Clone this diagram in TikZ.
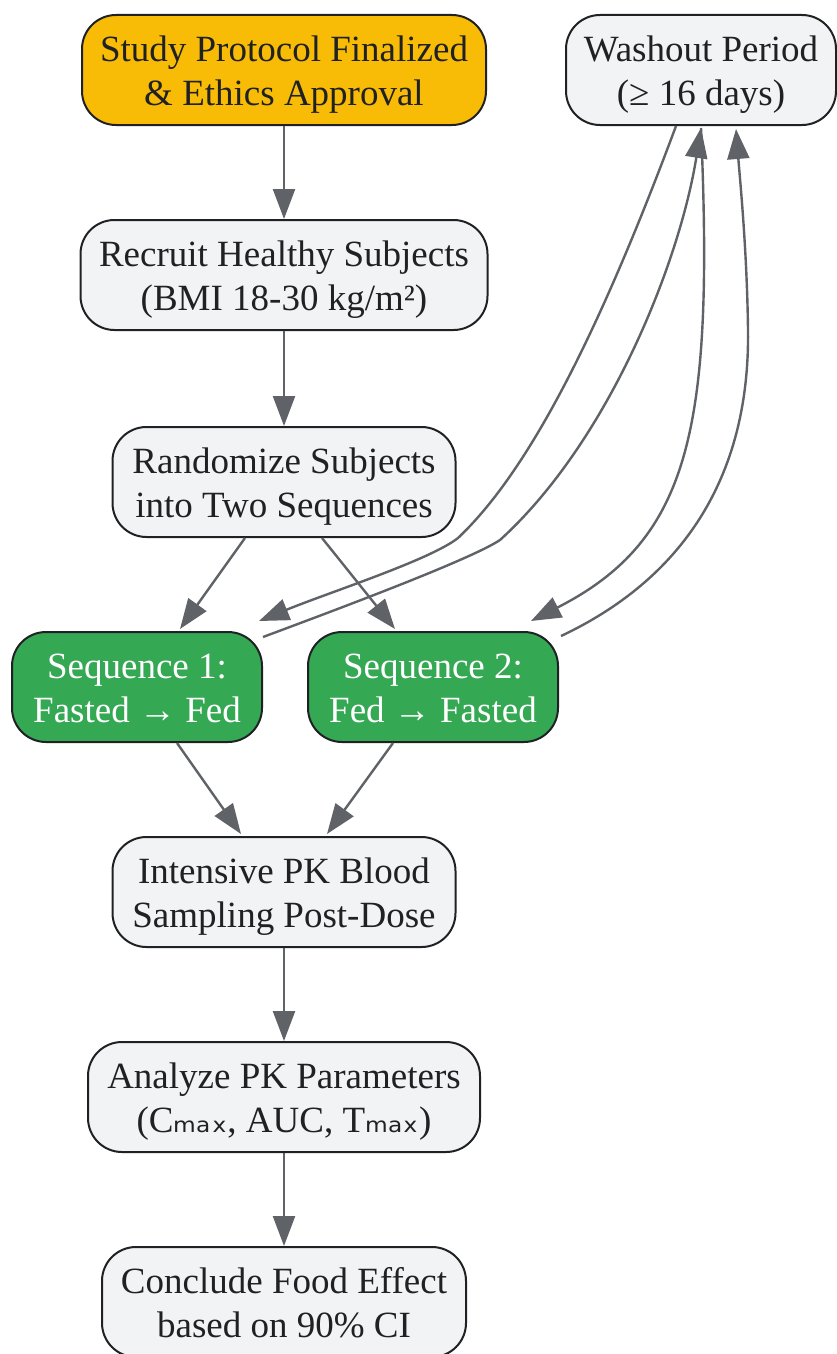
\documentclass[tikz,border=0pt]{standalone}
\usepackage{fontspec}
\setmainfont{Liberation Serif}
\newfontfamily\dvs{DejaVu Sans}
\usetikzlibrary{arrows.meta,calc}
\definecolor{nodefill}{HTML}{F1F3F4}
\definecolor{edgecol}{HTML}{5F6368}
\definecolor{textcol}{HTML}{202124}
\definecolor{gold}{HTML}{F9BC06}
\definecolor{seqgreen}{HTML}{34A853}
\newcommand{\submax}{{\dvs ₘₐₓ}}
\newcommand{\tstrut}{\rule{0pt}{36pt}}
\newcommand{\bstrut}{\rule[-9pt]{0pt}{9pt}}
\begin{document}
\begin{tikzpicture}[x=1pt,y=-1pt,
  box/.style={draw=textcol, line width=2pt, rounded corners=34pt, fill=nodefill,
    text=textcol, minimum height=110pt, align=center, inner sep=0pt,
    font=\fontsize{37}{44}\selectfont},
  greenbox/.style={box, fill=seqgreen, text=white},
  goldbox/.style={box, fill=gold},
  arr/.style={draw=edgecol, line width=2.4pt, -{Triangle[length=30pt,width=22pt]}}]
\useasboundingbox (0,0) rectangle (836,1354);
\node[goldbox, minimum width=404pt] (study) at (284,70) {\tstrut Study Protocol Finalized\\\& Ethics Approval\bstrut};
\node[box, minimum width=270pt] (wash) at (701,70) {\tstrut Washout Period\\(≥ 16 days)\bstrut};
\node[box, minimum width=407pt] (recruit) at (284,275) {\tstrut Recruit Healthy Subjects\\(BMI 18-30 kg/m²)\bstrut};
\node[box, minimum width=343pt] (rand) at (284,482) {\tstrut Randomize Subjects\\into Two Sequences\bstrut};
\node[greenbox, minimum width=250pt] (seq1) at (137,687) {\tstrut Sequence 1:\\Fasted → Fed\bstrut};
\node[greenbox, minimum width=250pt] (seq2) at (433,687) {\tstrut Sequence 2:\\Fed → Fasted\bstrut};
\node[box, minimum width=343pt] (pk) at (284,892) {\tstrut Intensive PK Blood\\Sampling Post-Dose\bstrut};
\node[box, minimum width=392pt] (analyze) at (284,1097) {\tstrut Analyze PK Parameters\\(C\submax, AUC, T\submax)\bstrut};
\node[box, minimum width=364pt] (conclude) at (284,1302) {\tstrut Conclude Food Effect\\based on 90\% CI\bstrut};

\draw[arr] (study) -- (recruit);
\draw[arr] (recruit) -- (rand);
\draw[arr] ($(rand.south)+(-39,0)$) -- ($(seq1.north)+(43,-2)$);
\draw[arr] ($(rand.south)+(38,0)$) -- ($(seq2.north)+(-38,-2)$);
\draw[arr] ($(seq1.south)+(40,0)$) -- ($(pk.north)+(-43,-2)$);
\draw[arr] ($(seq2.south)+(-40,0)$) -- ($(pk.north)+(43,-2)$);
\draw[arr] (pk) -- (analyze);
\draw[arr] (analyze) -- (conclude);

\draw[arr] ($(wash.south)+(-25,0)$) .. controls (600,330) and (530,470) .. (458,538)
  .. controls (430,560) and (330,592) .. ($(seq1.north east)+(-4,-10)$);
\draw[arr] ($(seq1.north east)+(0,6)$) .. controls (330,612) and (470,560) .. (500,540)
  .. controls (610,440) and (680,260) .. ($(wash.south)+(0,2)$);
\draw[arr] ($(wash.south)+(0,2)$) .. controls (714,430) and (690,540) .. ($(seq2.north east)+(-28,-10)$);
\draw[arr] ($(seq2.north east)+(2,5)$) .. controls (680,580) and (750,480) .. (748,330)
  .. controls (747,250) and (740,180) .. ($(wash.south)+(35,3)$);
\end{tikzpicture}
\end{document}
